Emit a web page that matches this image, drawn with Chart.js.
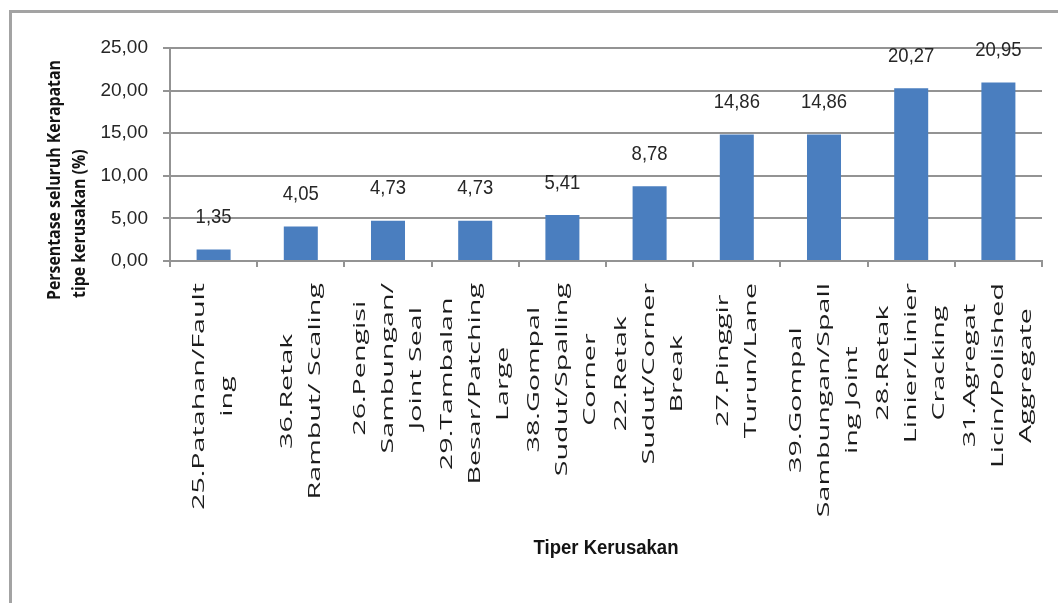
<!DOCTYPE html>
<html>
<head>
<meta charset="utf-8">
<script src="https://cdn.jsdelivr.net/npm/chart.js@4.4.1/dist/chart.umd.min.js"></script>
<style>
  html, body { margin: 0; padding: 0; background: #fff; }
  #wrap { position: relative; width: 1058px; height: 603px; overflow: hidden; }
  #frame { position: absolute; left: 9px; top: 10px; width: 1200px; height: 800px;
           border-left: 3px solid #a3a3a3; border-top: 3px solid #a3a3a3; }
  canvas { position: absolute; left: 0; top: 0; }
</style>
</head>
<body>
<div id="wrap">
  <div id="frame"></div>
  <canvas id="grafik" width="1058" height="603"></canvas>
</div>
<script>
// data
var kategori = [
  ["25.Patahan/Fault", "ing"],
  ["36.Retak", "Rambut/ Scaling"],
  ["26.Pengisi", "Sambungan/", "Joint Seal"],
  ["29.Tambalan", "Besar/Patching", "Large"],
  ["38.Gompal", "Sudut/Spalling", "Corner"],
  ["22.Retak", "Sudut/Corner", "Break"],
  ["27.Pinggir", "Turun/Lane"],
  ["39.Gompal", "Sambungan/Spall", "ing Joint"],
  ["28.Retak", "Linier/Linier", "Cracking"],
  ["31.Agregat", "Licin/Polished", "Aggregate"]
];
var persentase = [1.35, 4.05, 4.73, 4.73, 5.41, 8.78, 14.86, 14.86, 20.27, 20.95];
var judulY = ["Persentase seluruh Kerapatan", "tipe kerusakan (%)"];
var judulX = "Tiper Kerusakan";

function koma(v) {
  return v.toFixed(2).replace(".", ",");
}

var warnaGaris = "#939393";

// teks tegak (diputar), direntang sepanjang arah teks
function teksTegak(ctx, teks, x, y, sx) {
  ctx.save();
  ctx.translate(x, y);
  ctx.rotate(-Math.PI / 2);
  ctx.scale(sx, 1);
  ctx.fillText(teks, 0, 0);
  ctx.restore();
}

var labelPlugin = {
  id: "labelPlugin",
  afterDraw: function (chart) {
    var ctx = chart.ctx;
    var xs = chart.scales.x;
    var meta = chart.getDatasetMeta(0);

    // nilai di atas batang
    ctx.save();
    ctx.fillStyle = "#262626";
    ctx.font = "21px 'Liberation Sans', Arial, sans-serif";
    ctx.textAlign = "center";
    ctx.textBaseline = "middle";
    meta.data.forEach(function (bar, i) {
      ctx.save();
      ctx.translate(bar.x, bar.y - 32);
      ctx.scale(0.88, 1);
      ctx.fillText(koma(persentase[i]), 0, 0);
      ctx.restore();
    });
    ctx.restore();

    // label kategori, diputar
    ctx.save();
    ctx.fillStyle = "#1c1c1c";
    ctx.font = "17px 'Open Sans', sans-serif";
    ctx.textAlign = "center";
    ctx.textBaseline = "middle";
    var sx = 227 / ctx.measureText(kategori[0][0]).width;
    kategori.forEach(function (baris, i) {
      var cx = xs.getPixelForValue(i);
      var maks = 0;
      baris.forEach(function (t) { maks = Math.max(maks, ctx.measureText(t).width * sx); });
      var cy = chart.chartArea.bottom + 22 + maks / 2;
      baris.forEach(function (t, j) {
        teksTegak(ctx, t, cx + (j - (baris.length - 1) / 2) * 28, cy, sx);
      });
    });
    ctx.restore();

    // judul sumbu Y
    ctx.save();
    ctx.fillStyle = "#141414";
    ctx.font = "bold 18px 'Open Sans', sans-serif";
    ctx.textAlign = "left";
    ctx.textBaseline = "middle";
    var sy = 240 / ctx.measureText(judulY[0]).width;
    teksTegak(ctx, judulY[0], 55, 300, sy);
    teksTegak(ctx, judulY[1], 80, 298, sy);
    ctx.restore();

    // judul sumbu X
    ctx.save();
    ctx.fillStyle = "#141414";
    ctx.font = "bold 19px 'Liberation Sans', Arial, sans-serif";
    ctx.textAlign = "center";
    ctx.textBaseline = "middle";
    var cxJudul = (chart.chartArea.left + chart.chartArea.right) / 2;
    var w = ctx.measureText(judulX).width;
    ctx.translate(cxJudul, 548);
    ctx.scale(145 / w, 1.1);
    ctx.fillText(judulX, 0, 0);
    ctx.restore();
  }
};

var obj = document.getElementById("grafik");
var grafik = new Chart(obj, {
  type: "bar",
  data: {
    labels: kategori,
    datasets: [
      {
        label: "Persentase",
        data: persentase,
        backgroundColor: "#4a7ebf",
        borderWidth: 0,
        barPercentage: 0.39,
        categoryPercentage: 1
      }
    ]
  },
  options: {
    responsive: false,
    animation: false,
    devicePixelRatio: 1,
    layout: { padding: { top: 48, right: 16, left: 0, bottom: 0 } },
    plugins: {
      legend: { display: false },
      tooltip: { enabled: false }
    },
    scales: {
      x: {
        offset: true,
        ticks: { display: false },
        grid: {
          offset: true,
          drawOnChartArea: false,
          drawTicks: true,
          tickLength: 6,
          color: warnaGaris,
          lineWidth: 2
        },
        border: { display: true, color: warnaGaris, width: 2 },
        afterFit: function (s) { s.height = 603 - 261; }
      },
      y: {
        min: 0,
        max: 25,
        ticks: {
          stepSize: 5,
          padding: 15,
          color: "#262626",
          font: { family: "'Liberation Sans', Arial, sans-serif", size: 19 },
          callback: function (v) { return koma(v); }
        },
        grid: {
          color: warnaGaris,
          lineWidth: 2,
          drawTicks: true,
          tickLength: 7
        },
        border: { display: true, color: warnaGaris, width: 2 },
        afterFit: function (s) { s.width = 170; }
      }
    }
  },
  plugins: [labelPlugin]
});
</script>
</body>
</html>
